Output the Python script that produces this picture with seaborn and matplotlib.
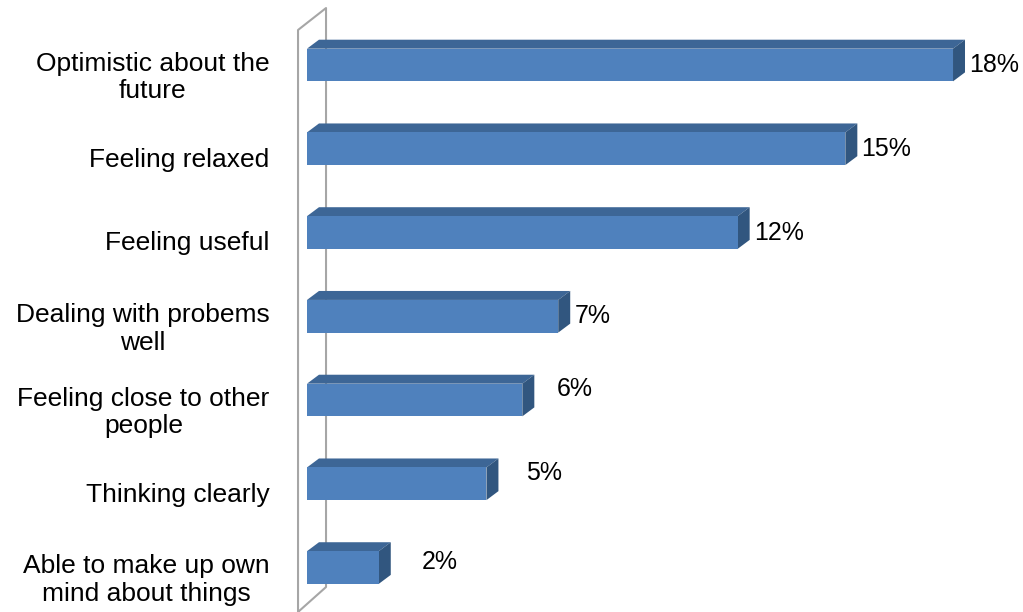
import matplotlib
matplotlib.use("Agg")
import matplotlib.pyplot as plt
from matplotlib.patches import Polygon
from matplotlib.transforms import ScaledTranslation
import seaborn as sns
import pandas as pd

# Share of respondents reporting each feeling
categories = [
    "Optimistic about the\nfuture",
    "Feeling relaxed",
    "Feeling useful",
    "Dealing with probems\nwell",
    "Feeling close to other\npeople",
    "Thinking clearly",
    "Able to make up own\nmind about things",
]
values = [18, 15, 12, 7, 6, 5, 2]
value_labels = ["18%", "15%", "12%", "7%", "6%", "5%", "2%"]

# label nudges in points (dx, dy) for the value labels
label_nudge = [(3, 0), (3, 0), (3, 0), (3, 0), (16, 8), (20, 8), (22, 4)]

FRONT = "#4f81bd"
TOP = "#3d6696"
SIDE = "#31567f"
WALL = "#a6a6a6"

sns.set_theme(style="white")
plt.rcParams["font.family"] = ["Liberation Sans", "DejaVu Sans"]

fig = plt.figure(figsize=(10.23, 6.12), dpi=100)
ax = fig.add_axes([307 / 1023, 0.0, 716 / 1023, 1.0])

df = pd.DataFrame({"category": categories, "value": values})
sns.barplot(data=df, x="value", y="category", orient="h", color=FRONT,
            width=0.39, saturation=1, ax=ax, edgecolor="none", zorder=3)

ax.set_xlim(0, 19.95)
ax.set_ylim(6.531, -0.776)

# depth of the 3-D extrusion in data units
dx, dy = 0.334, 0.107

for bar in ax.patches[: len(values)]:
    x0, y0 = bar.get_x(), bar.get_y()
    w, h = bar.get_width(), bar.get_height()
    # y axis is inverted: y0 is the upper edge of the front face
    top = Polygon([(x0, y0), (x0 + dx, y0 - dy), (x0 + w + dx, y0 - dy), (x0 + w, y0)],
                  closed=True, facecolor=TOP, edgecolor="none", zorder=2)
    side = Polygon([(x0 + w, y0), (x0 + w + dx, y0 - dy), (x0 + w + dx, y0 + h - dy), (x0 + w, y0 + h)],
                   closed=True, facecolor=SIDE, edgecolor="none", zorder=2)
    ax.add_patch(top)
    ax.add_patch(side)

# value labels
for i, (v, lab) in enumerate(zip(values, value_labels)):
    ndx, ndy = label_nudge[i]
    ax.annotate(lab, xy=(v + dx, i), xytext=(ndx, ndy), textcoords="offset points",
                ha="left", va="center", fontsize=18, color="black", zorder=5)

# side wall drawn as a thin parallelogram to the left of the bars
wall_front, wall_back = -0.25, 0.53
ylo, yhi = ax.get_ylim()
wall_x = [wall_front, wall_front, wall_back, wall_back, wall_front]
wall_y = [ylo, -0.418, -0.68, 6.233, ylo]
ax.plot(wall_x, wall_y, color=WALL, lw=1.5, clip_on=False, zorder=1)

ax.set_xlabel("")
ax.set_ylabel("")
ax.set_xticks([])
ax.tick_params(axis="y", length=0, pad=27, labelcolor="black")
for lbl in ax.get_yticklabels():
    lbl.set_fontsize(19)
    lbl.set_color("black")
    lbl.set_multialignment("center")
    lbl.set_linespacing(1.18)
    lbl.set_transform(lbl.get_transform() + ScaledTranslation(0, -6 / 72, fig.dpi_scale_trans))
for s in ax.spines.values():
    s.set_visible(False)
ax.patch.set_alpha(0)

fig.savefig("out.png", dpi=100)
